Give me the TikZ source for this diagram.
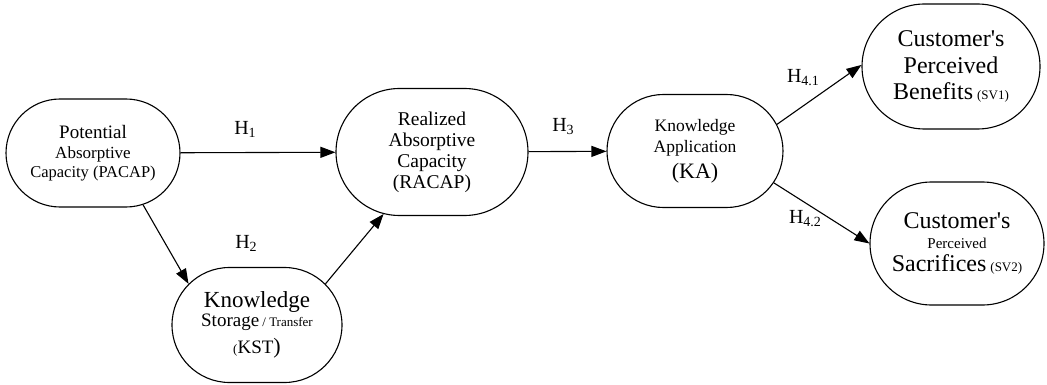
\documentclass[tikz,border=0pt]{standalone}
\usepackage{fontspec}
\setmainfont{Liberation Serif}
\usetikzlibrary{arrows.meta,positioning,shapes.misc}
\newcommand{\fs}[2]{\fontsize{#1}{#2}\selectfont}
\newcommand{\hyp}[1]{{\fs{20}{22}H\raisebox{-3pt}{\fs{14}{16}#1}}}

\tikzset{
    construct/.style={draw, rounded rectangle, line width=1.1pt, align=center, inner sep=0pt},
    path/.style={line width=1.1pt, -{Triangle[length=15pt,width=11pt]}},
    hlabel/.style={inner sep=0pt}
}

\begin{document}
\begin{tikzpicture}[x=1pt,y=-1pt]
    \useasboundingbox (0,0) rectangle (1047,385);

    % Constructs
    \node[construct, minimum width=174pt, minimum height=108pt, font=\fs{17}{20}] (pacap) at (93,153)
        {{\fs{19}{20}Potential}\\Absorptive\\[-1pt]{\fs{16.5}{20}Capacity (PACAP)}};
    \node[construct, minimum width=192pt, minimum height=127pt, font=\fs{19.5}{21}] (racap) at (432,152)
        {Realized\\Absorptive\\Capacity\\(RACAP)};
    \node[construct, minimum width=170pt, minimum height=115pt, font=\fs{19}{19}] (kst) at (257,325)
        {{\fs{23}{19}Knowledge}\\Storage\,{\fs{13}{19}/ Transfer}\\[6pt]{\fs{13}{19}(}KST{\fs{22}{19})}};
    \node[construct, minimum width=176pt, minimum height=113pt, font=\fs{17.5}{21}] (ka) at (695,151)
        {Knowledge\\Application\\[5pt]{\fs{22}{21}(KA)}};
    \node[construct, minimum width=178pt, minimum height=125pt, font=\fs{24}{26.5}] (sv1) at (951,66.5)
        {Customer\textquotesingle s\\Perceived\\Benefits\,{\fs{13}{15}(SV1)}};
    \node[construct, minimum width=174pt, minimum height=123pt, font=\fs{24}{20}] (sv2) at (957,243.5)
        {Customer\textquotesingle s\\{\fs{15}{20}Perceived}\\[3pt]Sacrifices\,{\fs{13}{15}(SV2)}};

    % Hypotheses
    \draw[path] (pacap) -- (racap);
    \draw[path] (pacap.-46) -- (kst.149);
    \draw[path] (kst.31) -- (racap.-128);
    \draw[path] (racap) -- (ka);
    \draw[path] (ka.18) -- (sv1.179);
    \draw[path] (ka.-22) -- (sv2.west);

    % Labels
    \node[hlabel] (h1) at (245,129) {\hyp{1}};
    \node[hlabel] (h2) at (246,243) {\hyp{2}};
    \node[hlabel] (h3) at (563,127) {\hyp{3}};
    \node[hlabel] (h41) at (803,78) {\hyp{4.1}};
    \node[hlabel] (h42) at (805,219) {\hyp{4.2}};
\end{tikzpicture}
\end{document}
